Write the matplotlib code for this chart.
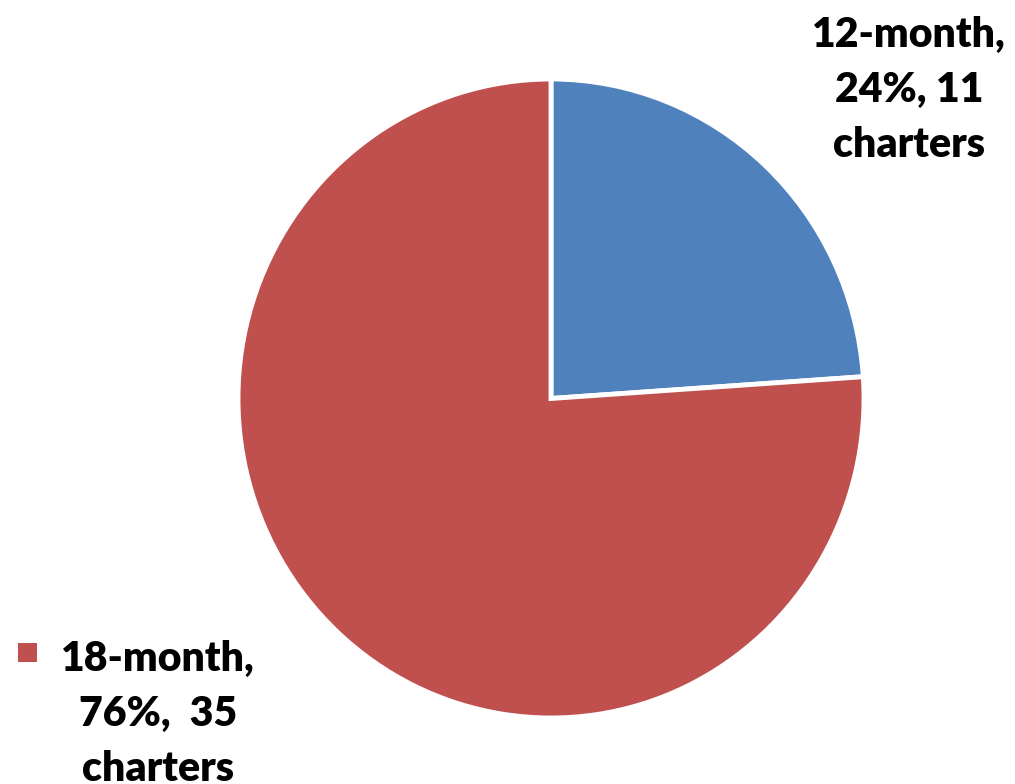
import matplotlib
matplotlib.use("Agg")
import matplotlib.pyplot as plt
from matplotlib.patches import Rectangle

categories = ["12-month", "18-month"]
charters = [11, 35]
percents = ["24%", "76%"]
colors = ["#4F81BD", "#C0504D"]

W, H = 1015, 784
fig = plt.figure(figsize=(W / 100, H / 100), dpi=100)

cx, cy, rx, ry = 551, 398.5, 313, 319.5
ax = fig.add_axes([(cx - rx) / W, (H - cy - ry) / H, 2 * rx / W, 2 * ry / H])
ax.pie(charters, colors=colors, startangle=90, counterclock=False, radius=1,
       wedgeprops=dict(edgecolor="white", linewidth=3.5))
ax.set_aspect("auto")
ax.set_xlim(-1.0, 1.0)
ax.set_ylim(-1.0, 1.0)
ax.axis("off")

font = dict(family=["Lato", "DejaVu Sans"], weight="heavy", fontsize=29.5, color="black")

fig.text(909 / W, 1 - 90 / H,
         f"{categories[0]},\n{percents[0]}, {charters[0]}\ncharters",
         ha="center", va="center", linespacing=1.55, **font)
fig.text(158 / W, 1 - 714 / H,
         f"{categories[1]},\n{percents[1]},  {charters[1]}\ncharters",
         ha="center", va="center", linespacing=1.55, **font)
fig.patches.append(Rectangle((18 / W, 1 - 662 / H), 19 / W, 19 / H,
                             transform=fig.transFigure, facecolor=colors[1],
                             edgecolor="none"))

fig.savefig("out.png", dpi=100)
